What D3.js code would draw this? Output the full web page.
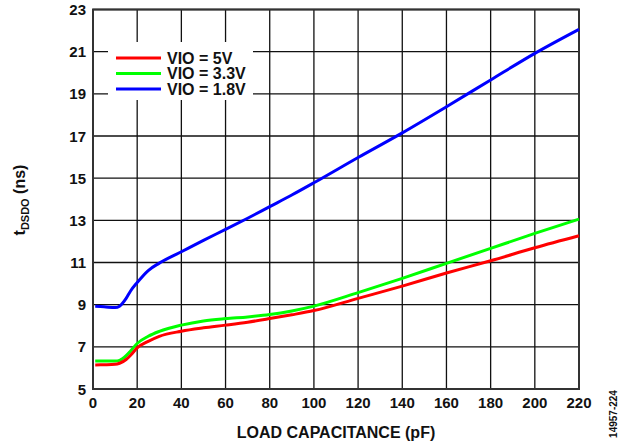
<!DOCTYPE html>
<html lang="en">
  <head>
    <meta charset="utf-8">
    <title>tDSDO vs Load Capacitance</title>
    <script src="https://d3js.org/d3.v7.min.js"></script>
    <style type="text/css">
        body { margin: 0; background: #fff; }
        text { font-family: Arial, "Liberation Sans", sans-serif; font-weight: bold; fill: #111; }
    </style>
  </head>
  <body>
    <div id="chart"></div>
    <script type="text/javascript">

      // load capacitance (pF)
      var capacitance = [1, 5, 10, 12, 15, 17, 20, 25, 30, 40, 50, 60, 70, 80, 90, 100, 120, 140, 160, 180, 200, 220];

      // tDSDO (ns) for each VIO
      var vio5  = [6.14, 6.15, 6.17, 6.22, 6.4, 6.6, 6.95, 7.26, 7.5, 7.74, 7.9, 8.03, 8.17, 8.34, 8.52, 8.72, 9.3, 9.88, 10.5, 11.08, 11.7, 12.27];
      var vio33 = [6.33, 6.33, 6.33, 6.36, 6.58, 6.8, 7.16, 7.5, 7.73, 8.03, 8.23, 8.34, 8.42, 8.53, 8.7, 8.93, 9.57, 10.25, 10.96, 11.67, 12.38, 13.06];
      var vio18 = [8.92, 8.9, 8.86, 8.93, 9.3, 9.65, 10.05, 10.62, 10.97, 11.51, 12.05, 12.57, 13.1, 13.65, 14.2, 14.78, 15.98, 17.15, 18.39, 19.66, 20.92, 22.06];

      var seriesNames = ["VIO = 5V", "VIO = 3.3V", "VIO = 1.8V"];
      var seriesColors = ["#ff0000", "#00ff00", "#0000ff"];

      var xTicks = d3.range(0, 221, 20);
      var yTicks = d3.range(5, 24, 2);

      var width = 621, height = 446;
      var margin = {left: 93, top: 9.5, right: 42, bottom: 57};

      var svg = d3.select("#chart").append("svg")
          .attr("width", width)
          .attr("height", height);

      var x = d3.scaleLinear().domain([0, 220]).range([margin.left, width - margin.right]);
      var y = d3.scaleLinear().domain([5, 23]).range([height - margin.bottom, margin.top]);

      // grid
      svg.append("g").selectAll("line")
        .data(xTicks).enter().append("line")
        .attr("x1", function(d){ return x(d); })
        .attr("x2", function(d){ return x(d); })
        .attr("y1", y(5)).attr("y2", y(23))
        .attr("stroke", "#111").attr("stroke-width", 1.3);

      svg.append("g").selectAll("line")
        .data(yTicks).enter().append("line")
        .attr("y1", function(d){ return y(d); })
        .attr("y2", function(d){ return y(d); })
        .attr("x1", x(0)).attr("x2", x(220))
        .attr("stroke", "#111").attr("stroke-width", 1.3);

      // frame
      svg.append("rect")
        .attr("x", x(0)).attr("y", y(23))
        .attr("width", x(220) - x(0)).attr("height", y(5) - y(23))
        .attr("fill", "none").attr("stroke", "#333").attr("stroke-width", 2);

      // tick labels
      svg.append("g").selectAll("text")
        .data(xTicks).enter().append("text")
        .attr("x", function(d){ return x(d); })
        .attr("y", 408)
        .attr("text-anchor", "middle")
        .attr("font-size", 15)
        .text(function(d){ return d; });

      svg.append("g").selectAll("text")
        .data(yTicks).enter().append("text")
        .attr("x", 86)
        .attr("y", function(d){ return y(d) + 5.5; })
        .attr("text-anchor", "end")
        .attr("font-size", 15)
        .text(function(d){ return d; });

      // axis titles
      svg.append("text")
        .attr("x", x(110)).attr("y", 438)
        .attr("text-anchor", "middle")
        .attr("font-size", 16)
        .text("LOAD CAPACITANCE (pF)");

      var yTitle = svg.append("text")
        .attr("transform", "translate(25,200) rotate(-90)")
        .attr("text-anchor", "middle")
        .attr("font-size", 16);
      yTitle.append("tspan").text("t");
      yTitle.append("tspan").attr("font-size", 11).attr("dy", 4).text("DSDO");
      yTitle.append("tspan").attr("dy", -4).text(" (ns)");

      svg.append("text")
        .attr("transform", "translate(617,414) rotate(-90)")
        .attr("text-anchor", "middle")
        .attr("font-size", 10)
        .attr("font-weight", "normal")
        .text("14957-224");

      // curves
      var series = [vio5, vio33, vio18];
      var line = d3.line()
        .x(function(d, i){ return x(capacitance[i]); })
        .y(function(d){ return y(d); })
        .curve(d3.curveMonotoneX);

      // legend box (blanks out grid)
      svg.append("rect")
        .attr("x", 108).attr("y", 42)
        .attr("width", 145).attr("height", 58)
        .attr("fill", "#fff");

      [1, 0, 2].forEach(function(k) {
        svg.append("path")
          .datum(series[k])
          .attr("d", line)
          .attr("fill", "none")
          .attr("stroke", seriesColors[k])
          .attr("stroke-width", 3);
      });

      var legend = svg.append("g").selectAll("g")
        .data(seriesNames).enter().append("g")
        .attr("transform", function(d, i){ return "translate(0," + (58 + i * 15.5) + ")"; });

      legend.append("line")
        .attr("x1", 116).attr("x2", 161)
        .attr("stroke", function(d, i){ return seriesColors[i]; })
        .attr("stroke-width", 3);

      legend.append("text")
        .attr("x", 167).attr("y", 5.5)
        .attr("font-size", 16)
        .text(function(d){ return d; });

    </script>
  </body>
</html>
